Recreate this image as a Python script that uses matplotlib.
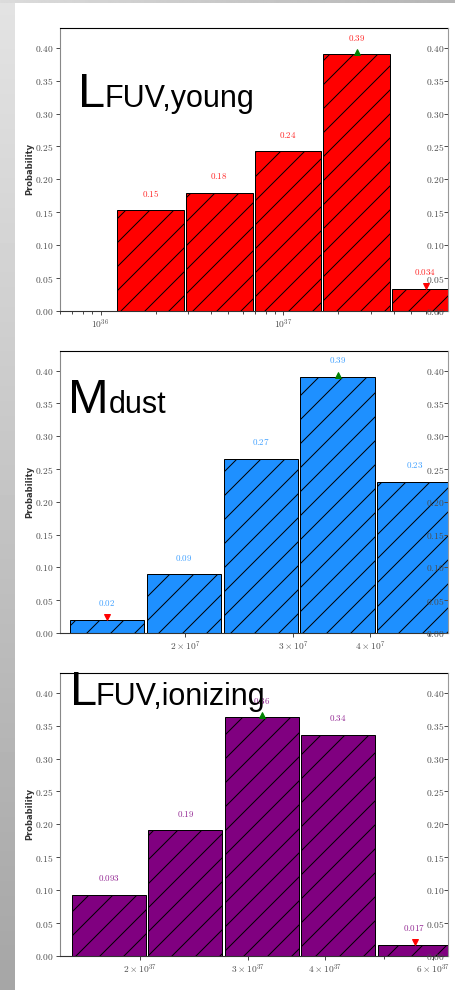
import numpy as np
import matplotlib
matplotlib.use("Agg")
import matplotlib.pyplot as plt
from matplotlib.ticker import FixedLocator, LogLocator, NullFormatter, FuncFormatter

# bin edges (x values) and probabilities
lfuv_young_edges = [1.233e36, 2.924e36, 6.966e36, 1.644e37, 3.945e37, 9.33e37]
lfuv_young_prob = [0.154, 0.180, 0.243, 0.390, 0.034]

mdust_edges = [1.300e7, 1.734e7, 2.312e7, 3.083e7, 4.111e7, 5.483e7]
mdust_prob = [0.020, 0.090, 0.266, 0.391, 0.231]

lfuv_ion_edges = [1.549e37, 2.063e37, 2.748e37, 3.661e37, 4.875e37, 6.494e37]
lfuv_ion_prob = [0.093, 0.191, 0.363, 0.336, 0.017]

young_ticks = [1e36, 1e37]
young_ticklabels = [r"$10^{36}$", r"$10^{37}$"]
mdust_ticks = [2e7, 3e7, 4e7]
mdust_ticklabels = [r"$2\times10^{7}$", r"$3\times10^{7}$", r"$4\times10^{7}$"]
ion_ticks = [2e37, 3e37, 4e37, 6e37]
ion_ticklabels = [r"$2\times10^{37}$", r"$3\times10^{37}$", r"$4\times10^{37}$", r"$6\times10^{37}$"]

prob_ticks = [0.0, 0.05, 0.10, 0.15, 0.20, 0.25, 0.30, 0.35, 0.40]

plt.rcParams["mathtext.fontset"] = "cm"
plt.rcParams["hatch.linewidth"] = 1.0

# at 72 dpi one point is one pixel
DPI = 72
W, H = 455, 990
fig = plt.figure(figsize=(W / DPI, H / DPI), dpi=DPI, facecolor="white")

# grey page edges
bg = fig.add_axes([0, 0, 1, 1], zorder=-5)
bg.set_xlim(0, W)
bg.set_ylim(H, 0)
bg.axis("off")
vgrad = np.linspace(0.89, 0.65, 200)[:, None]
bg.imshow(vgrad, extent=(0, 15, H, 0), aspect="auto", cmap="gray", vmin=0, vmax=1)
hgrad = np.linspace(0.86, 0.71, 200)[None, :]
bg.imshow(hgrad, extent=(0, W, 3, 0), aspect="auto", cmap="gray", vmin=0, vmax=1)

TICKC = "#4d4d4d"


def panel(top, bottom, edges, probs, color, xlim, ticks, ticklabels):
    ax = fig.add_axes([60 / W, 1 - bottom / H, 388 / W, (bottom - top) / H])
    ax.set_xscale("log")
    edges = np.asarray(edges)
    probs = np.asarray(probs)
    lo = np.log10(edges[:-1])
    hi = np.log10(edges[1:])
    gap = 0.03 * (hi - lo)
    left = 10 ** lo
    right = 10 ** (hi - gap)
    ax.bar(left, probs, width=right - left, align="edge", color=color,
           edgecolor="black", linewidth=1.0, hatch="/")
    centers = 10 ** ((lo + hi - gap) / 2)
    for c, p in zip(centers, probs):
        ax.text(c, p + 0.025, f"${p:.2g}$", ha="center", va="center",
                color=color, fontsize=9, alpha=0.85)
    imax, imin = np.argmax(probs), np.argmin(probs)
    ax.plot(centers[imax], probs[imax] + 0.003, "^", color="green", ms=6, zorder=5)
    ax.plot(centers[imin], probs[imin] + 0.004, "v", color="red", ms=6, zorder=5)

    ax.set_xlim(*xlim)
    ax.set_ylim(0, 0.43)
    ax.set_xticks(ticks, ticklabels)
    ax.xaxis.set_minor_locator(LogLocator(base=10, subs=np.arange(2, 10)))
    ax.xaxis.set_minor_formatter(NullFormatter())
    ax.yaxis.set_major_locator(FixedLocator(prob_ticks))
    ax.yaxis.set_major_formatter(FuncFormatter(lambda v, i: f"${v:.2f}$"))
    ax.tick_params(axis="x", which="major", length=4, width=1, pad=3,
                   labelsize=9.5, color=TICKC, labelcolor=TICKC)
    ax.tick_params(axis="x", which="minor", length=3, width=1, color=TICKC)
    ax.tick_params(axis="y", length=3.7, width=1, pad=2.5,
                   labelsize=9.5, color=TICKC, labelcolor=TICKC)
    ax.spines["top"].set_color("black")
    ax.spines["bottom"].set_color("#333333")
    ax.spines["left"].set_color("#888888")
    ax.spines["right"].set_visible(False)
    for s in ax.spines.values():
        s.set_linewidth(1.1)

    ax2 = ax.twinx()
    ax2.set_ylim(0, 0.43)
    ax2.yaxis.set_major_locator(FixedLocator(prob_ticks))
    ax2.yaxis.set_major_formatter(FuncFormatter(lambda v, i: f"${v:.2f}$"))
    ax2.tick_params(axis="y", direction="in", length=3.7, width=1, pad=-22.5,
                    labelsize=9.5, color=TICKC, labelcolor=TICKC)
    for name in ("top", "bottom", "left"):
        ax2.spines[name].set_visible(False)
    ax2.spines["right"].set_color("#999999")
    ax2.spines["right"].set_linewidth(1.1)

    fig.text(30 / W, 1 - (top + bottom) / 2 / H, "Probability", rotation=90,
             ha="center", va="center", fontsize=8.2, fontweight="bold", color="#333333")
    return ax


def big_label(x1, x2, base, big, small):
    fig.text(x1 / W, 1 - base / H, big, fontsize=48.8, family="Liberation Sans",
             va="baseline", ha="left", color="black")
    fig.text(x2 / W, 1 - base / H, small, fontsize=30.5, family="Liberation Sans",
             va="baseline", ha="left", color="black")


panel(28, 311, lfuv_young_edges, lfuv_young_prob, "#ff0000",
      (6.0e35, 7.94e37), young_ticks, young_ticklabels)
panel(351, 633, mdust_edges, mdust_prob, "#1e90ff",
      (1.253e7, 5.36e7), mdust_ticks, mdust_ticklabels)
panel(673, 956, lfuv_ion_edges, lfuv_ion_prob, "#800080",
      (1.482e37, 6.35e37), ion_ticks, ion_ticklabels)

big_label(78.5, 104.5, 107, "L", "FUV,young")
big_label(68.4, 109, 413, "M", "dust")
big_label(69.5, 95.5, 705, "L", "FUV,ionizing")

fig.savefig("out.png", dpi=DPI, facecolor="white")
